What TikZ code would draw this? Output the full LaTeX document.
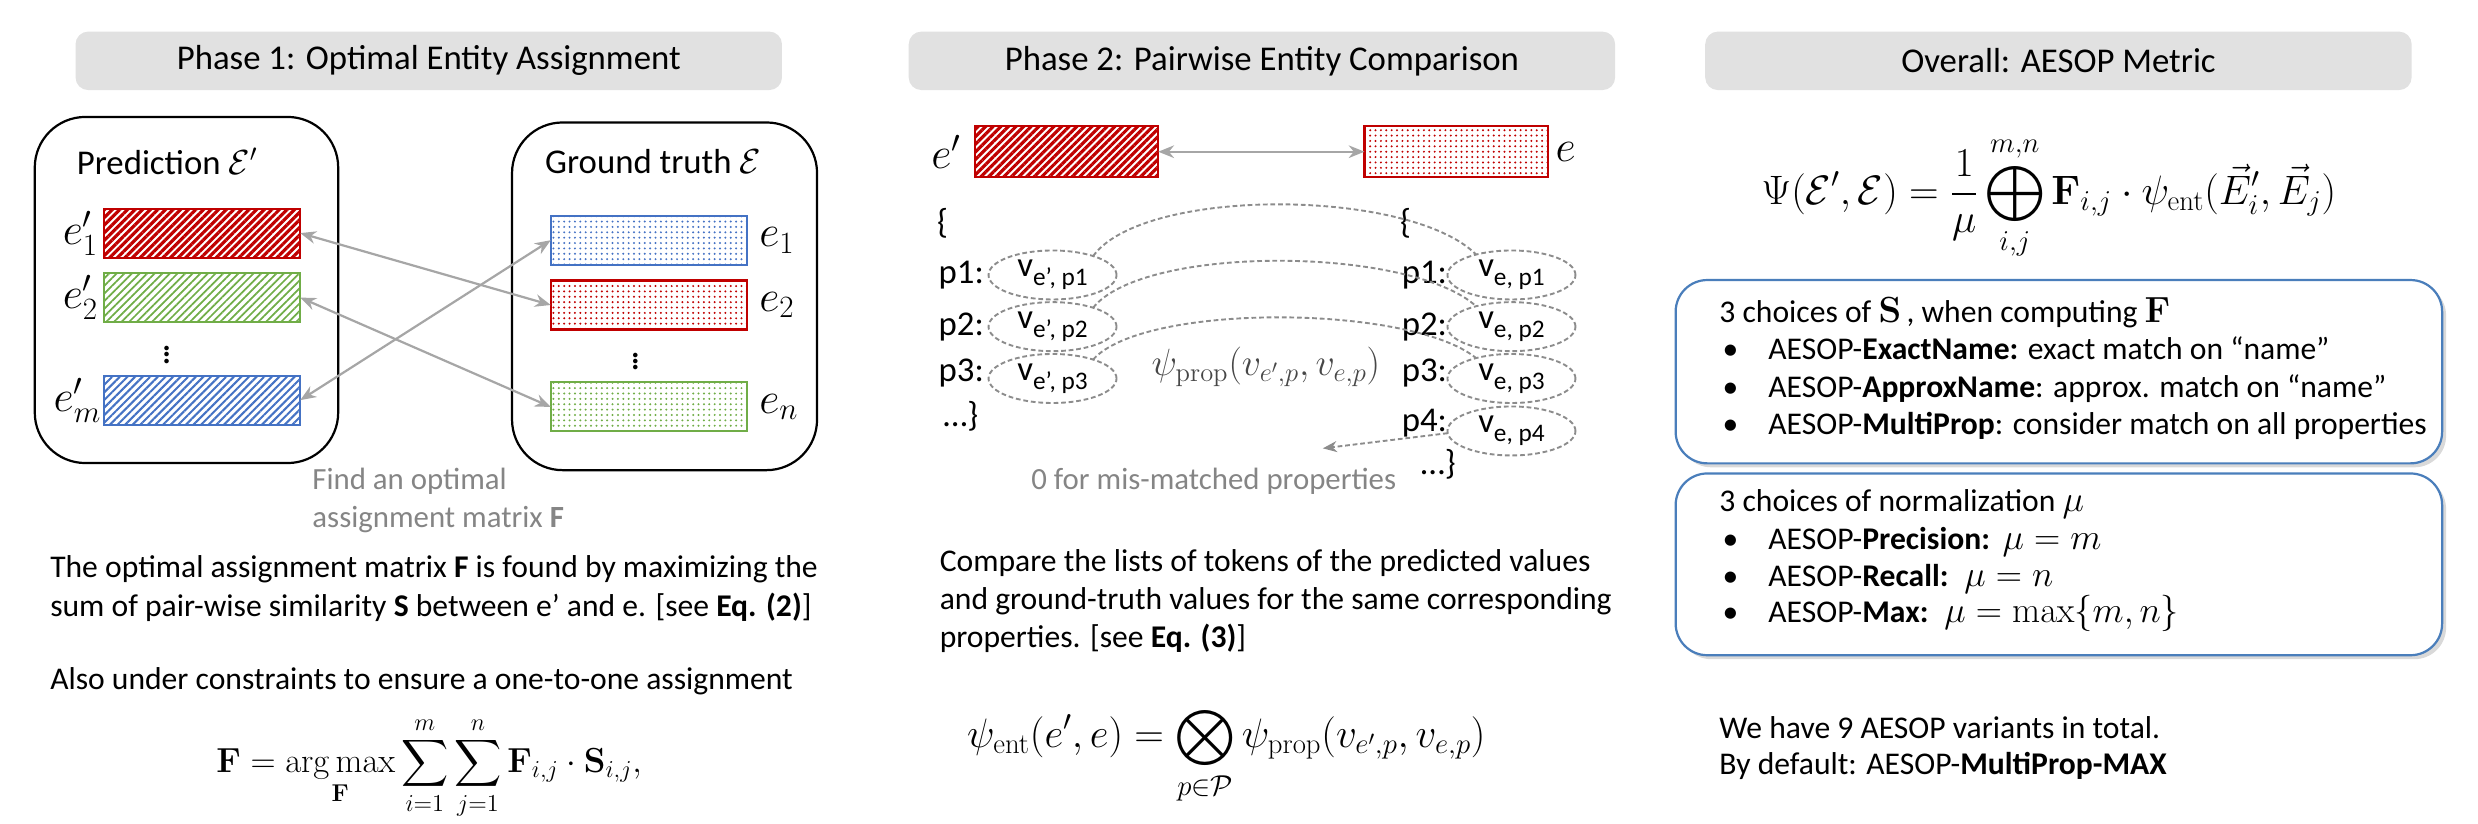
\RequirePackage{fix-cm}
\documentclass[tikz,border=0pt]{standalone}
\usepackage{amsmath}
\usepackage[no-math]{fontspec}
\setmainfont{Carlito}
\usetikzlibrary{patterns.meta,shapes.geometric,shadows,arrows.meta}
\definecolor{titlegray}{HTML}{E1E1E1}
\definecolor{arrowgray}{HTML}{A6A6A6}
\definecolor{txtgray}{HTML}{858585}
\definecolor{hred}{HTML}{C00000}
\definecolor{hgreen}{HTML}{70AD47}
\definecolor{hblue}{HTML}{4472C4}
\definecolor{boxblue}{HTML}{4A7EBB}
\definecolor{dashgray}{HTML}{8C8C8C}
\newcommand\vsub[1]{\raisebox{-0.55ex}{\fontsize{16}{17}\selectfont #1}}
\newcommand\bul{\makebox[29pt][l]{•}}
\newcommand\mth[1]{{\fontsize{23}{26}\selectfont$#1$}}
\begin{document}
\begin{tikzpicture}[x=1pt,y=-1pt,
 every node/.style={inner sep=0pt, outer sep=0pt},
 titlebox/.style={fill=titlegray, rounded corners=8pt, minimum width=447pt, minimum height=37pt, font=\fontsize{22}{26}\selectfont},
 setbox/.style={draw=black, line width=1.4pt, rounded corners=32pt},
 setlbl/.style={anchor=west, font=\fontsize{22}{26}\selectfont},
 ebox/.style={minimum width=124pt, minimum height=31pt, line width=1.3pt},
 pbox/.style={minimum width=116pt, minimum height=32pt, line width=1.3pt},
 hatchR/.style={draw=hred, pattern={Lines[angle=45,distance=3.4pt,line width=2pt]}, pattern color=hred},
 hatchG/.style={draw=hgreen, pattern={Lines[angle=45,distance=3.4pt,line width=1.1pt]}, pattern color=hgreen},
 hatchB/.style={draw=hblue, pattern={Lines[angle=45,distance=3.4pt,line width=1.3pt]}, pattern color=hblue},
 dotR/.style={draw=hred, pattern={Dots[distance=3.4pt,radius=0.7pt]}, pattern color=hred},
 dotG/.style={draw=hgreen, pattern={Dots[distance=3.4pt,radius=0.7pt]}, pattern color=hgreen},
 dotB/.style={draw=hblue, pattern={Dots[distance=3.4pt,radius=0.7pt]}, pattern color=hblue},
 elbl/.style={font=\fontsize{28}{32}\selectfont},
 garrow/.style={draw=arrowgray, line width=1.4pt, arrows={Stealth[length=10pt,width=8pt]-Stealth[length=10pt,width=8pt]}},
 bodyln/.style={anchor=base west, font=\fontsize{20}{24}\selectfont},
 grayln/.style={anchor=base west, text=txtgray, font=\fontsize{19.5}{23}\selectfont},
 lrow/.style={anchor=west, font=\fontsize{22}{26}\selectfont},
 vell/.style={ellipse, draw=dashgray, dash pattern=on 3pt off 1.8pt, line width=1.2pt, minimum width=81pt, minimum height=31pt, font=\fontsize{22}{26}\selectfont},
 darc/.style={draw=dashgray, dash pattern=on 3pt off 1.8pt, line width=1.2pt},
 bluebox/.style={draw=boxblue, line width=1.4pt, rounded corners=20pt, fill=white, drop shadow={opacity=0.3, shadow xshift=2.5pt, shadow yshift=-2.5pt}},
 boxln/.style={anchor=base west, font=\fontsize{20}{24}\selectfont},
 vdotsty/.style={font=\fontsize{24}{28}\selectfont}
]
\useasboundingbox (0,0) rectangle (1568,521);

% ---------- titles ----------
\node[titlebox] (t1) at (271.3,38.5) {Phase 1: Optimal Entity Assignment};
\node[titlebox] (t2) at (798.5,38.5) {Phase 2: Pairwise Entity Comparison};
\node[titlebox] (t3) at (1302.5,38.5) {Overall: AESOP Metric};

% ---------- Phase 1 ----------
\node[setbox, minimum width=192pt, minimum height=219pt] (pred) at (118,183.5) {};
\node[setbox, minimum width=193pt, minimum height=220pt] (gt) at (420.5,187.5) {};
\node[setlbl] (predlbl) at (48.6,102) {Prediction $\mathcal{E}'$};
\node[setlbl] (gtlbl) at (345,102.5) {Ground truth $\mathcal{E}$};

\node[ebox, hatchR] (p1) at (128,147.5) {};
\node[ebox, hatchG] (p2) at (128,188.3) {};
\node[ebox, hatchB] (pm) at (128,253.2) {};
\node[ebox, dotB] (g1) at (410.5,152) {};
\node[ebox, dotR] (g2) at (410.5,193) {};
\node[ebox, dotG] (gn) at (410.5,257.5) {};

\node[elbl, anchor=east] (lp1) at ([xshift=-4pt]p1.west) {$e'_1$};
\node[elbl, anchor=east] (lp2) at ([xshift=-4pt]p2.west) {$e'_2$};
\node[elbl, anchor=east] (lpm) at ([xshift=-2pt]pm.west) {$e'_m$};
\node[elbl, anchor=west] (lg1) at ([xshift=8pt]g1.east) {$e_1$};
\node[elbl, anchor=west] (lg2) at ([xshift=8pt]g2.east) {$e_2$};
\node[elbl, anchor=west] (lgn) at ([xshift=8pt]gn.east) {$e_n$};
\node[vdotsty] (vd1) at (105.5,221.5) {$\vdots$};
\node[vdotsty] (vd2) at (402,225.7) {$\vdots$};

\draw[garrow] (p1.east) -- (g2.west);
\draw[garrow] (p2.east) -- (gn.west);
\draw[garrow] (pm.east) -- (g1.west);

\node[grayln] (find1) at (197.7,309.5) {Find an optimal};
\node[grayln] (find2) at (197.7,333.7) {assignment matrix \textbf{F}};

\node[bodyln] (body1) at (31.8,365.5) {The optimal assignment matrix \textbf{F} is found by maximizing the};
\node[bodyln] (body2) at (31.8,390) {sum of pair-wise similarity \textbf{S} between e’ and e. [see \textbf{Eq. (2)}]};
\node[bodyln] (body3) at (31.8,436.5) {Also under constraints to ensure a one-to-one assignment};
\node[font=\fontsize{22}{26}\selectfont] (eq1) at (271.5,486) {$\displaystyle \mathbf{F}=\mathop{\mathrm{arg\,max}}\limits_{\mathbf{F}}\sum_{i=1}^{m}\sum_{j=1}^{n}\mathbf{F}_{i,j}\cdot\mathbf{S}_{i,j},$};

% ---------- Phase 2 ----------
\node[pbox, hatchR] (pr) at (674.9,96) {};
\node[pbox, dotR] (pe) at (921.4,96) {};
\node[elbl, anchor=east] (lpr) at ([xshift=-9pt]pr.west) {$e'$};
\node[elbl, anchor=west] (lpe) at ([xshift=5pt]pe.east) {$e$};
\draw[garrow] (pr.east) -- (pe.west);

% left list
\node[lrow] (lbr) at (593,141) {\{};
\node[lrow] (lk1) at (594,174) {p1:};
\node[lrow] (lk2) at (594,206.7) {p2:};
\node[lrow] (lk3) at (594,236.3) {p3:};
\node[lrow] (lend) at (597,263.7) {…\}};
\node[vell] (lv1) at (666,174) {v\vsub{e’, p1}};
\node[vell] (lv2) at (666,206.7) {v\vsub{e’, p2}};
\node[vell] (lv3) at (666,239.5) {v\vsub{e’, p3}};
% right list
\node[lrow] (rbr) at (886,141) {\{};
\node[lrow] (rk1) at (887,174) {p1:};
\node[lrow] (rk2) at (887,206.7) {p2:};
\node[lrow] (rk3) at (887,236.3) {p3:};
\node[lrow] (rk4) at (887,268) {p4:};
\node[lrow] (rend) at (899,294) {…\}};
\node[vell] (rv1) at (956.4,174) {v\vsub{e, p1}};
\node[vell] (rv2) at (956.4,206.7) {v\vsub{e, p2}};
\node[vell] (rv3) at (956.4,239.5) {v\vsub{e, p3}};
\node[vell] (rv4) at (956.4,272.7) {v\vsub{e, p4}};

\draw[darc] (lv1.25) .. controls +(32,-44) and +(-42,-42) .. (rv1.150);
\draw[darc] (lv2.25) .. controls +(32,-40) and +(-42,-38) .. (rv2.150);
\draw[darc] (lv3.25) .. controls +(32,-36) and +(-42,-34) .. (rv3.150);

\node[font=\fontsize{24}{28}\selectfont, text=black!72] (psiprop) at (801,232) {$\psi_{\mathrm{prop}}(v_{e',p},v_{e,p})$};
\coordinate (zerotip) at (837,283.7);
\draw[darc, -{Stealth[length=9pt,width=7pt]}] (rv4.182) -- (zerotip);
\node[anchor=base, text=txtgray, font=\fontsize{19.5}{23}\selectfont] (zerotxt) at (768,309.5) {0 for mis-matched properties};

\node[bodyln] (cmp1) at (594.7,361.5) {Compare the lists of tokens of the predicted values};
\node[bodyln] (cmp2) at (594.7,385.8) {and ground-truth values for the same corresponding};
\node[bodyln] (cmp3) at (594.7,410) {properties. [see \textbf{Eq. (3)}]};
\node[font=\fontsize{26}{30}\selectfont] (eq2) at (776,478) {$\displaystyle \psi_{\mathrm{ent}}(e',e)=\bigotimes_{p\in\mathcal{P}}\psi_{\mathrm{prop}}(v_{e',p},v_{e,p})$};

% ---------- Overall ----------
\node[font=\fontsize{26}{30}\selectfont] (eq3) at (1296.5,125.4) {$\displaystyle \Psi(\mathcal{E}',\mathcal{E})=\frac{1}{\mu}\bigoplus_{i,j}^{m,n}\mathbf{F}_{i,j}\cdot\psi_{\mathrm{ent}}(\vec{E}'_i,\vec{E}_j)$};

\node[bluebox, minimum width=485pt, minimum height=116pt] (box1) at (1302.8,235.2) {};
\node[bluebox, minimum width=485pt, minimum height=115pt] (box2) at (1302.8,357.1) {};
\node[boxln] (b1h) at (1088,204.3) {3 choices of \mth{\mathbf{S}}\,, when computing \mth{\mathbf{F}}};
\node[boxln] (b1a) at (1090,227.5) {\bul AESOP-\textbf{ExactName:} exact match on “name”};
\node[boxln] (b1b) at (1090,251.8) {\bul AESOP-\textbf{ApproxName}: approx. match on “name”};
\node[boxln] (b1c) at (1090,275) {\bul AESOP-\textbf{MultiProp}: consider match on all properties};
\node[boxln] (b2h) at (1088,323.5) {3 choices of normalization \mth{\mu}};
\node[boxln] (b2a) at (1090,347.8) {\bul AESOP-\textbf{Precision:}\hspace{8pt}\mth{\mu=m}};
\node[boxln] (b2b) at (1090,371) {\bul AESOP-\textbf{Recall:}\hspace{10pt}\mth{\mu=n}};
\node[boxln] (b2c) at (1090,394) {\bul AESOP-\textbf{Max:}\hspace{10pt}\mth{\mu=\max\{m,n\}}};
\node[bodyln] (concl1) at (1088,467) {We have 9 AESOP variants in total.};
\node[bodyln] (concl2) at (1088,490.2) {By default: AESOP-\textbf{MultiProp-MAX}};
\end{tikzpicture}
\end{document}
